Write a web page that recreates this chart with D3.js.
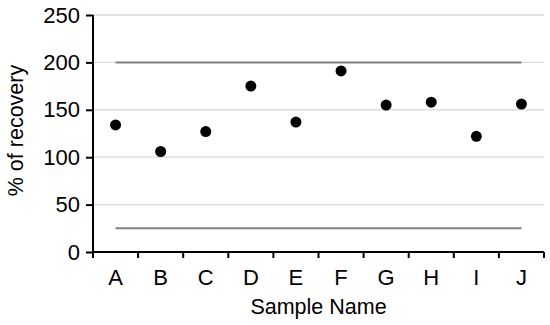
<!DOCTYPE html>
<html>
<head>
<meta charset="utf-8">
<script src="https://d3js.org/d3.v7.min.js"></script>
<style>
body { margin: 0; background: #fff; }
text { font-family: "Liberation Sans", Arial, sans-serif; fill: #000; }
</style>
</head>
<body>
<div id="chart"></div>
<script>

// data
var samples = ["A", "B", "C", "D", "E", "F", "G", "H", "I", "J"];
var recovery = [134, 106, 127, 175, 137, 191, 155, 158, 122, 156];
var limits = [200, 25];
var yTicks = [0, 50, 100, 150, 200, 250];

var W = 550, H = 325;
var margin = {top: 15, right: 6, bottom: 73, left: 93};
var width = W - margin.left - margin.right,
    height = H - margin.top - margin.bottom;

var svg = d3.select("#chart")
  .append("svg")
    .attr("width", W)
    .attr("height", H)
  .append("g")
    .attr("transform", "translate(" + margin.left + "," + margin.top + ")");

var x = d3.scaleBand().domain(samples).range([0, width]);
var y = d3.scaleLinear().domain([0, 250]).range([height, 0]);

// gridlines
svg.append("g")
  .selectAll("line")
  .data(yTicks.slice(1))
  .enter().append("line")
    .attr("x1", 0).attr("x2", width)
    .attr("y1", function(d){ return y(d); })
    .attr("y2", function(d){ return y(d); })
    .attr("stroke", "#d9d9d9")
    .attr("stroke-width", 1.3);

// limit lines, from first to last sample centre
var xc = function(s){ return x(s) + x.bandwidth() / 2; };
svg.append("g")
  .selectAll("line")
  .data(limits)
  .enter().append("line")
    .attr("x1", xc(samples[0]))
    .attr("x2", xc(samples[samples.length - 1]))
    .attr("y1", function(d){ return y(d); })
    .attr("y2", function(d){ return y(d); })
    .attr("stroke", "#808080")
    .attr("stroke-width", 2);

// axes
var yAxis = svg.append("g")
  .call(d3.axisLeft(y).tickValues(yTicks).tickSize(7).tickPadding(6));
var xAxis = svg.append("g")
  .attr("transform", "translate(0," + height + ")")
  .call(d3.axisBottom(x).tickSize(0).tickPadding(17));

// tick marks between categories
xAxis.selectAll(".sep")
  .data(d3.range(samples.length + 1))
  .enter().append("line")
    .attr("class", "sep")
    .attr("x1", function(i){ return i * x.step(); })
    .attr("x2", function(i){ return i * x.step(); })
    .attr("y1", 0).attr("y2", 6)
    .attr("stroke", "#000").attr("stroke-width", 2);

[yAxis, xAxis].forEach(function(a){
  a.attr("font-size", null);
  a.select(".domain").attr("stroke", "#000").attr("stroke-width", 2);
  a.selectAll(".tick line").attr("stroke", "#000").attr("stroke-width", 2);
  a.selectAll("text")
    .style("font-size", "22px")
    .style("font-family", "'Liberation Sans', Arial, sans-serif")
    .attr("fill", "#000");
});
xAxis.select(".domain").attr("d", "M0,0H" + width);
yAxis.select(".domain").attr("d", "M0," + height + "V0");

// points
svg.append("g")
  .selectAll("circle")
  .data(recovery)
  .enter().append("circle")
    .attr("cx", function(d, i){ return xc(samples[i]); })
    .attr("cy", function(d){ return y(d); })
    .attr("r", 5.5)
    .attr("fill", "#000");

// axis titles
svg.append("text")
  .attr("x", width / 2)
  .attr("y", height + 62)
  .attr("text-anchor", "middle")
  .style("font-size", "21.5px")
  .text("Sample Name");

svg.append("text")
  .attr("transform", "rotate(-90)")
  .attr("x", -height / 2 + 3)
  .attr("y", -70)
  .attr("text-anchor", "middle")
  .style("font-size", "21.5px")
  .text("% of recovery");

</script>
</body>
</html>
